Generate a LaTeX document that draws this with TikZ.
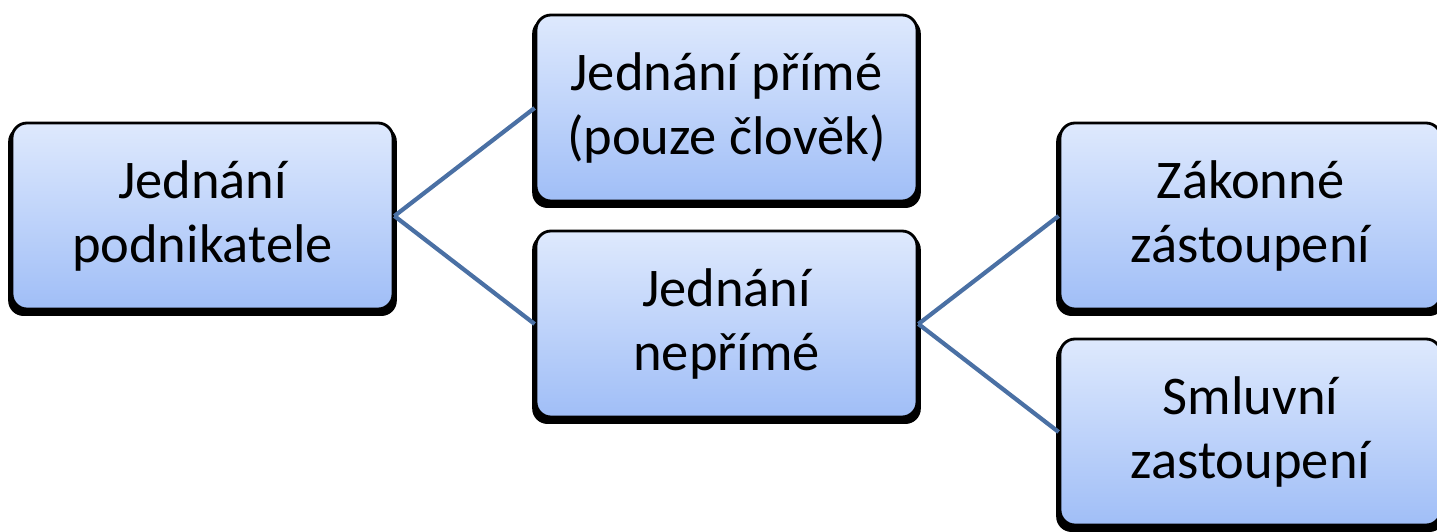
\documentclass[tikz,border=0pt]{standalone}
\usepackage{fontspec}
\setmainfont{Carlito}
\usepackage{xcolor}
\usepackage{tikz}
\usetikzlibrary{shadows}

\definecolor{caixatopo}{RGB}{222,233,253}
\definecolor{caixabase}{RGB}{160,190,247}
\definecolor{linha}{RGB}{74,112,164}

\begin{document}
\begin{tikzpicture}[
		    every node/.style={draw=black, line width=0.8pt, rounded corners=0.15cm, minimum width=3.81cm, minimum height=1.86cm, align=center, font=\fontsize{15.5}{18}\selectfont},
		    grow'=right, level distance=5.24cm, sibling distance=2.16cm,
		    edge from parent/.style={draw=linha, line width=1.2pt},
		    edge from parent path={(\tikzparentnode.east) -- (\tikzchildnode.west)}
		]
		\tikzset{
		    caixa/.style={top color=caixatopo, bottom color=caixabase,
		        drop shadow={shadow xshift=0mm, shadow yshift=-0.5mm, shadow scale=1.02, fill=black, opacity=1}}
		}
		\useasboundingbox (0,0) rectangle (14.37,-5.32);
		\node[caixa] (podnikatel) at (2.025,-2.16) {Jednání\\podnikatele}
		  child {
		    node[caixa] (prime) {Jednání přímé\\(pouze člověk)}
		  }
		  child {
		    node[caixa] (neprime) {Jednání\\nepřímé}
		    child {
		        node[caixa] (zakonne) {Zákonné\\zástoupení}
		    }
		    child {
		        node[caixa] (smluvni) {Smluvní\\zastoupení}
		    }
		  };
		\end{tikzpicture}
\end{document}
